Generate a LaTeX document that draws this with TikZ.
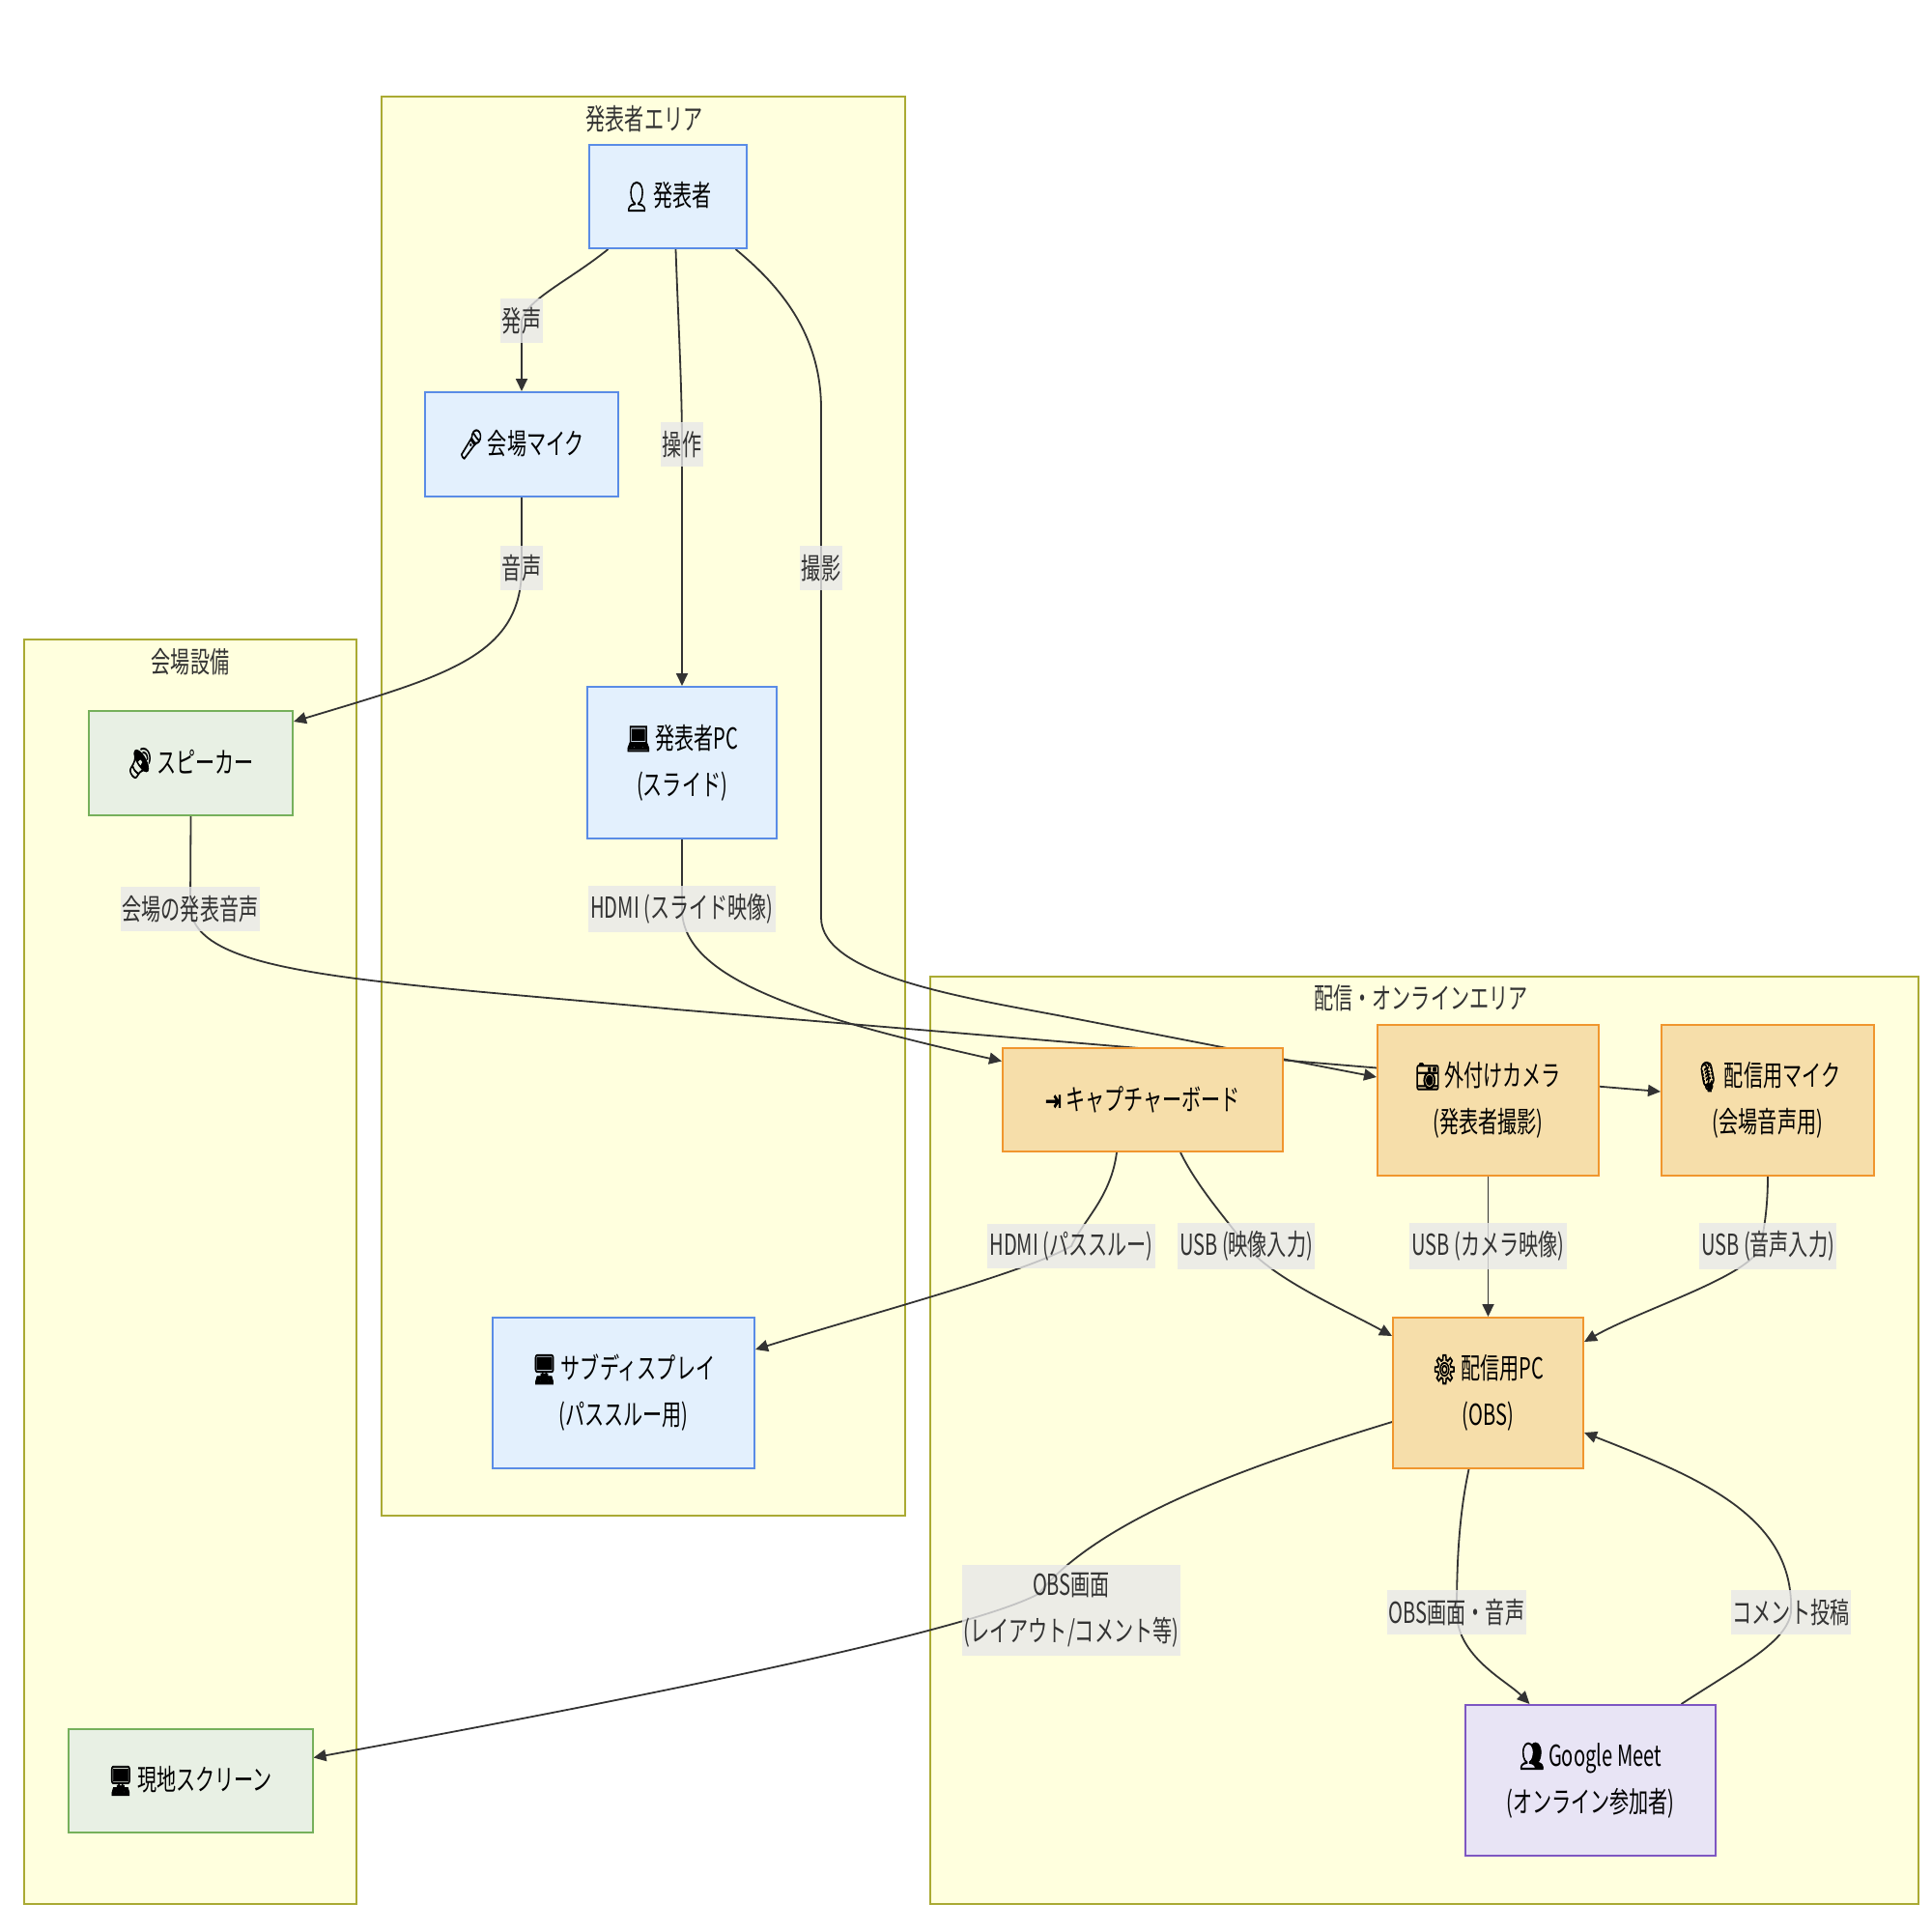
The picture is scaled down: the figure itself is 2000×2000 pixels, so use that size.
\documentclass[tikz,border=0pt]{standalone}
\usepackage{fontspec}
\setmainfont{Noto Sans CJK JP}[FakeStretch=0.67]
\newfontfamily\emoji{Noto Emoji}[FakeBold=3]
\newfontfamily\symfont{DejaVu Sans}[FakeBold=3]
\usepackage{graphicx}
\usetikzlibrary{arrows.meta}

\definecolor{areafill}{HTML}{FFFFDE}
\definecolor{areadraw}{HTML}{AAAA33}
\definecolor{bluefill}{HTML}{E3F0FD}
\definecolor{bluedraw}{HTML}{5A8CE6}
\definecolor{greenfill}{HTML}{E8F0E4}
\definecolor{greendraw}{HTML}{76B05B}
\definecolor{orangefill}{HTML}{F6DEAA}
\definecolor{orangedraw}{HTML}{F0962E}
\definecolor{purplefill}{HTML}{E8E4F5}
\definecolor{purpledraw}{HTML}{7E57C2}
\definecolor{lblgray}{HTML}{E8E8E8}
\definecolor{textgray}{HTML}{333333}

\newcommand{\icn}[1]{\scalebox{0.67}[1]{\emoji #1}}
\newcommand{\ics}[1]{\scalebox{0.67}[1]{\symfont #1}}

\pgfdeclarelayer{back}
\pgfdeclarelayer{wires}
\pgfsetlayers{back,wires,main}

\begin{document}
\begin{tikzpicture}[x=1pt,y=-1pt,
    font=\fontsize{30}{48}\selectfont,
    area/.style={draw=areadraw,fill=areafill,line width=2pt},
    areatitle/.style={text=textgray},
    box/.style={draw,line width=2pt,align=center,inner sep=0pt,text=black},
    talk/.style={box,draw=bluedraw,fill=bluefill},
    hall/.style={box,draw=greendraw,fill=greenfill},
    live/.style={box,draw=orangedraw,fill=orangefill},
    online/.style={box,draw=purpledraw,fill=purplefill},
    wire/.style={draw=textgray,line width=1.8pt,-{Triangle[length=13pt,width=12pt]}},
    lbl/.style={fill=lblgray,fill opacity=0.8,text opacity=1,text=textgray,
        inner xsep=2pt,inner ysep=8pt,minimum height=46pt,align=center}]
\useasboundingbox (0,0) rectangle (2000,2000);

% areas
\begin{pgfonlayer}{back}
    \draw[area] (395,100) rectangle (937,1569);
    \draw[area] (25,662) rectangle (369,1971);
    \draw[area] (963,1011) rectangle (1986,1971);
\end{pgfonlayer}
\node[areatitle] (talktitle) at (667,123) {発表者エリア};
\node[areatitle] (halltitle) at (197,685) {会場設備};
\node[areatitle] (livetitle) at (1471,1033) {配信・オンラインエリア};

% nodes
\node[talk, minimum width=163pt, minimum height=107pt] (presenter) at (691.5,203.5) {\icn{👤} 発表者};
\node[talk, minimum width=200pt, minimum height=108pt] (mic) at (540,460) {\icn{🎤} 会場マイク};
\node[talk, minimum width=196pt, minimum height=157pt] (pc) at (706,789.5) {\icn{💻} 発表者PC\\(スライド)};
\node[talk, minimum width=271pt, minimum height=156pt] (subdisp) at (645.5,1442) {\icn{🖥} サブディスプレイ\\(パススルー用)};
\node[hall, minimum width=211pt, minimum height=108pt] (speaker) at (197.5,790) {\icn{🔊} スピーカー};
\node[hall, minimum width=253pt, minimum height=107pt] (screen) at (197,1843.5) {\icn{🖥} 現地スクリーン};
\node[live, minimum width=290pt, minimum height=107pt] (capture) at (1183,1138.5) {\ics{⇥} キャプチャーボード};
\node[live, minimum width=229pt, minimum height=156pt] (camera) at (1540.5,1139) {\icn{📷} 外付けカメラ\\(発表者撮影)};
\node[live, minimum width=220pt, minimum height=156pt] (smic) at (1830,1139) {\icn{🎙} 配信用マイク\\(会場音声用)};
\node[live, minimum width=197pt, minimum height=156pt] (obs) at (1540.5,1442) {\icn{⚙} 配信用PC\\(OBS)};
\node[online, minimum width=259pt, minimum height=156pt] (meet) at (1646.5,1843) {\icn{👥} Google Meet\\(オンライン参加者)};

% connectors
\begin{pgfonlayer}{wires}
    \draw[wire] ([xshift=-62pt]presenter.south) .. controls (590,290) and (545,310) .. (540,332) node[lbl] (lblvoice) {発声} -- (mic.north);
    \draw[wire] (mic.south) -- (540,588) node[lbl] (lblsound) {音声} .. controls (540,680) and (460,700) .. ([yshift=43pt]speaker.east);
    \draw[wire] ([xshift=8pt]presenter.south) .. controls (702,330) and (706,400) .. (706,460) node[lbl] (lbloperate) {操作} -- (pc.north);
    \draw[wire] ([xshift=70pt]presenter.south) .. controls (800,290) and (850,340) .. (850,423) -- (850,588) node[lbl] (lblshoot) {撮影} -- (850,950) .. controls (850,1010) and (1000,1033) .. (1100,1052) -- ([yshift=24pt]camera.west);
    \draw[wire] (pc.south) -- (706,941) node[lbl] (lblhdmi) {HDMI (スライド映像)} .. controls (706,1010) and (820,1050) .. ([yshift=40pt]capture.west);
    \draw[wire] (speaker.south) -- (197,941) node[lbl] (lblhall) {会場の発表音声} .. controls (205,1010) and (380,1015) .. (700,1045) -- ([yshift=9pt]smic.west);
    \draw[wire] ([xshift=-27pt]capture.south) .. controls (1150,1240) and (1120,1265) .. (1109,1290) node[lbl] (lblpass) {HDMI (パススルー)} .. controls (1060,1318) and (900,1360) .. ([yshift=45pt]subdisp.east);
    \draw[wire] ([xshift=39pt]capture.south) .. controls (1240,1230) and (1272,1265) .. (1290,1290) node[lbl] (lblusbcap) {USB (映像入力)} .. controls (1320,1325) and (1390,1355) .. ([yshift=59pt]obs.west);
    \draw[wire] (camera.south) -- (1540.5,1290) node[lbl] (lblusbcam) {USB (カメラ映像)} -- (obs.north);
    \draw[wire] (smic.south) .. controls (1830,1250) and (1826,1275) .. (1822,1290) node[lbl, xshift=8pt] (lblusbmic) {USB (音声入力)} .. controls (1815,1320) and (1700,1355) .. ([yshift=53pt]obs.east);
    \draw[wire] ([yshift=-30pt]obs.west) .. controls (1300,1515) and (1140,1570) .. (1075,1650) node[lbl, xshift=34pt, yshift=-17pt] (lblobs) {OBS画面\\(レイアウト/コメント等)} .. controls (1000,1690) and (650,1760) .. ([yshift=24pt]screen.east);
    \draw[wire] ([xshift=-20pt]obs.south) .. controls (1510,1570) and (1508,1620) .. (1508,1669) node[lbl] (lblstream) {OBS画面・音声} .. controls (1508,1715) and (1560,1740) .. ([xshift=-63pt]meet.north);
    \draw[wire] ([xshift=94pt]meet.north) .. controls (1800,1725) and (1850,1700) .. (1854,1669) node[lbl] (lblcomment) {コメント投稿} .. controls (1858,1570) and (1760,1530) .. ([yshift=-41pt]obs.east);
\end{pgfonlayer}
\end{tikzpicture}
\end{document}
